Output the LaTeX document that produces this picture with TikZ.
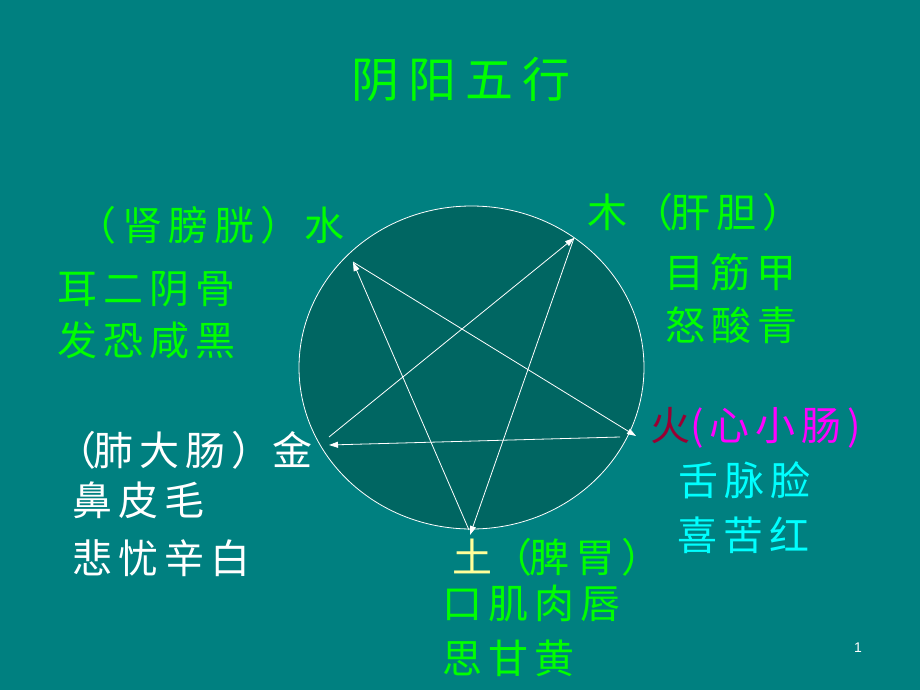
\documentclass[tikz,border=0pt]{standalone}
\usepackage{fontspec}
\usetikzlibrary{arrows.meta,shapes.geometric}
\newfontfamily\cjk{Noto Sans CJK SC}[LetterSpace=15]
\newfontfamily\cjkt{Noto Sans CJK SC}[LetterSpace=19]
\newfontfamily\numfont{Liberation Sans}
\definecolor{bg}{HTML}{008080}
\definecolor{disc}{HTML}{006662}
\definecolor{lgreen}{HTML}{00FF00}
\definecolor{lmag}{HTML}{FF00FF}
\definecolor{lred}{HTML}{990033}
\definecolor{lcyan}{HTML}{00FFFF}
\definecolor{lyel}{HTML}{FFFF99}
\tikzset{
  lbl/.style={anchor=base west, inner sep=0pt, font=\cjk\fontsize{40}{40}\selectfont},
  ttl/.style={anchor=base west, inner sep=0pt, font=\cjkt\fontsize{48}{48}\selectfont, text=lgreen},
  ke/.style={draw=white, line width=0.8pt, -{Triangle[length=9pt,width=6pt]}}
}
\begin{document}
\begin{tikzpicture}[x=1pt,y=-1pt]
\fill[bg] (0,0) rectangle (920,690);
\useasboundingbox (0,0) rectangle (920,690);
% disc
\node[draw=white, line width=0.8pt, fill=disc, ellipse, minimum width=345pt, minimum height=323pt, inner sep=0pt] (disc) at (471.5,367.5) {};
% pentagram points
\coordinate (mu) at (574,238);
\coordinate (tuA) at (470,535);
\coordinate (tuS) at (469,530);
\coordinate (shui) at (353,262);
\coordinate (huoA) at (636,436);
\coordinate (huoS) at (620,437);
\coordinate (jinA) at (329,445);
\coordinate (jinS) at (329,437);
\draw[ke] (mu) -- (tuA);
\draw[ke] (tuS) -- (shui);
\draw[ke] (shui) -- (huoA);
\draw[ke] (huoS) -- (jinA);
\draw[ke] (jinS) -- (mu);
% title
\node[ttl] (title) at (351,98) {阴阳五行};
% water
\node[lbl, text=lgreen] (w1) at (76,240) {（肾膀胱）\kern4pt 水};
\node[lbl, text=lgreen] (w2) at (57,303) {耳二阴骨};
\node[lbl, text=lgreen] (w3) at (57,355) {发恐咸黑};
% wood
\node[lbl, text=lgreen] (m1) at (587,227) {木（\kern-3pt 肝胆）};
\node[lbl, text=lgreen] (m2) at (664,287) {目筋甲};
\node[lbl, text=lgreen] (m3) at (665,340) {怒酸青};
% fire
\node[lbl] (f1) at (650,440) {\textcolor{lred}{火}\textcolor{lmag}{(心小肠)}};
\node[lbl, text=lcyan] (f2) at (678,495) {舌脉脸};
\node[lbl, text=lcyan] (f3) at (677,550) {喜苦红};
% metal
\node[lbl, text=white] (j1) at (56,465) {（\kern-3pt 肺大肠）\kern1pt 金};
\node[lbl, text=white] (j2) at (72,515) {鼻皮毛};
\node[lbl, text=white] (j3) at (72,573) {悲忧辛白};
% earth
\node[lbl] (t1) at (452,572) {\textcolor{lyel}{土}\textcolor{lgreen}{（\kern-3pt 脾胃）}};
\node[lbl, text=lgreen] (t2) at (442,618) {口肌肉唇};
\node[lbl, text=lgreen] (t3) at (442,673) {思甘黄};
% page number
\node[anchor=center, inner sep=0pt, text=white, font=\numfont\fontsize{14}{14}\selectfont] (pg) at (858,648) {1};
\end{tikzpicture}
\end{document}
